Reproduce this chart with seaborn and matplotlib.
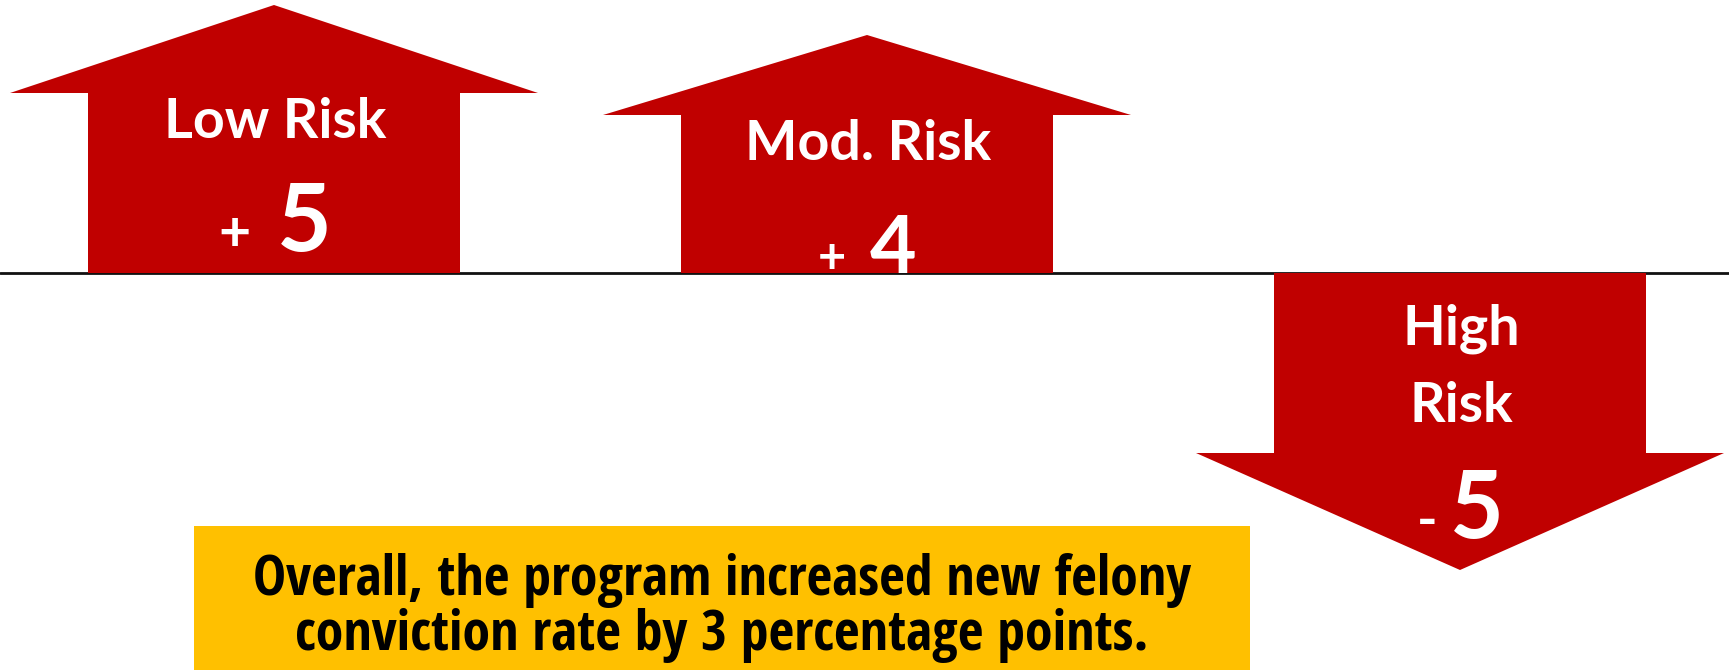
import numpy as np
import pandas as pd
import matplotlib
matplotlib.use("Agg")
import matplotlib.pyplot as plt
import seaborn as sns
from matplotlib.patches import Polygon, Rectangle
from matplotlib import font_manager
from matplotlib.font_manager import FontProperties

# ---------------- data ----------------
categories = ["Low Risk", "Mod. Risk", "High Risk"]
label_lines = [["Low Risk"], ["Mod. Risk"], ["High", "Risk"]]
changes = [5, 4, -5]
sign_text = ["+", "+", "-"]
summary_lines = ["Overall, the program increased new felony",
                 "conviction rate by 3 percentage points."]

# ---------------- style ----------------
RED = "#C00000"
YELLOW = "#FFC000"
W, H = 1729, 670
STEP = 593.0          # px per category
X0 = 274.0            # px of first category centre
U = 22.0              # px per y unit
BASE_PX = 273.0       # baseline px from top
SHAFT_BASE = 70.0 / U
SHAFT_W = 372.0 / STEP
HEAD_HW = 264.0 / STEP
HEAD_LEN_PX = [88, 80, 117]
NUM_PT = [68, 58, 67]
SIGN_PT = [40, 35, 40]
NUM_DX_PX = [30, 26, 17]
SIGN_DX_PX = [-40, -35, -33]
LABEL_PT = 40

sns.set_theme(style="white")
avail = {f.name for f in font_manager.fontManager.ttflist}
main_font = "Lato" if "Lato" in avail else "DejaVu Sans"
plt.rcParams["font.family"] = [main_font, "DejaVu Sans"]


def find_condensed():
    prefs = ["Noto Sans", "Open Sans", "Lato", "Roboto", "Liberation Sans", "DejaVu Sans"]
    best = None
    for f in font_manager.fontManager.ttflist:
        name = f.name
        stretch = str(f.stretch).lower()
        fname = f.fname.lower()
        is_cond = ("condensed" in stretch and "semi" not in stretch and "extra" not in stretch and "ultra" not in stretch) \
            or ("condensed" in name.lower()) or ("narrow" in name.lower()) \
            or ("condensed" in fname and "semi" not in fname and "extra" not in fname)
        if not is_cond:
            continue
        w = f.weight if isinstance(f.weight, int) else {"bold": 700}.get(str(f.weight), 400)
        if w < 600 or w > 800 or f.style != "normal":
            continue
        if "semi" in fname or "extra" in fname or "ultra" in fname:
            continue
        rank = len(prefs)
        for k, p in enumerate(prefs):
            if name.startswith(p):
                rank = k
                break
        score = (rank, abs(w - 700))
        if best is None or score < best[0]:
            best = (score, f.fname)
    return best[1] if best else None


cond_path = find_condensed()
if cond_path:
    sum_fp = FontProperties(fname=cond_path)
else:
    sum_fp = FontProperties(family=main_font, weight="bold")

fig = plt.figure(figsize=(W / 100, H / 100), dpi=100)
fig.patch.set_facecolor("white")
ax = fig.add_axes([0, 0, 1, 1])

shaft = [np.sign(v) * (SHAFT_BASE + abs(v)) for v in changes]
df = pd.DataFrame({"category": categories, "shaft": shaft})
sns.barplot(data=df, x="category", y="shaft", color=RED, saturation=1,
            width=SHAFT_W, ax=ax, linewidth=0, zorder=2)

ax.set_xlim(-X0 / STEP, (W - X0) / STEP)
ax.set_ylim((BASE_PX - H) / U, BASE_PX / U)
ax.set_axis_off()
ax.axhline(0, color="#111111", lw=2.0, zorder=1)

for i, (v, top) in enumerate(zip(changes, shaft)):
    s = np.sign(v)
    hl = HEAD_LEN_PX[i] / U
    head = Polygon([(i - HEAD_HW, top), (i + HEAD_HW, top), (i, top + s * hl)],
                   closed=True, facecolor=RED, edgecolor="none", zorder=2)
    ax.add_patch(head)

    if s > 0:
        lab_base = [top - 45.5 / U]
        num_base = top - 158 / U
    else:
        lab_base = [-72 / U, -149 / U]
        num_base = top - 85 / U
    for line, yb in zip(label_lines[i], lab_base):
        ax.text(i + 1 / STEP, yb, line, ha="center", va="baseline",
                fontsize=LABEL_PT, fontweight="bold", color="white", zorder=3)
    ax.text(i + NUM_DX_PX[i] / STEP, num_base, str(abs(v)), ha="center",
            va="baseline", fontsize=NUM_PT[i], fontweight="bold",
            color="white", zorder=3)
    ax.text(i + SIGN_DX_PX[i] / STEP, num_base, sign_text[i], ha="center",
            va="baseline", fontsize=SIGN_PT[i], fontweight="bold",
            color="white", zorder=3)

# summary box
fig.patches.append(Rectangle((194 / W, 0), 1056 / W, 144 / H,
                             transform=fig.transFigure, facecolor=YELLOW,
                             edgecolor="none", zorder=1))
r = fig.canvas.get_renderer()
fp1 = sum_fp.copy()
fp1.set_size(40)
t1 = fig.text(722 / W, 75 / H, summary_lines[0], ha="center", va="baseline",
              fontproperties=fp1, color="black", zorder=3)
w1 = t1.get_window_extent(renderer=r).width
fs = min(40 * 936 / w1, 44)
t1.set_fontsize(fs)
fp2 = sum_fp.copy()
fp2.set_size(fs)
fig.text(722 / W, 20 / H, summary_lines[1], ha="center", va="baseline",
         fontproperties=fp2, color="black", zorder=3)

fig.savefig("out.png", dpi=100, facecolor="white")
